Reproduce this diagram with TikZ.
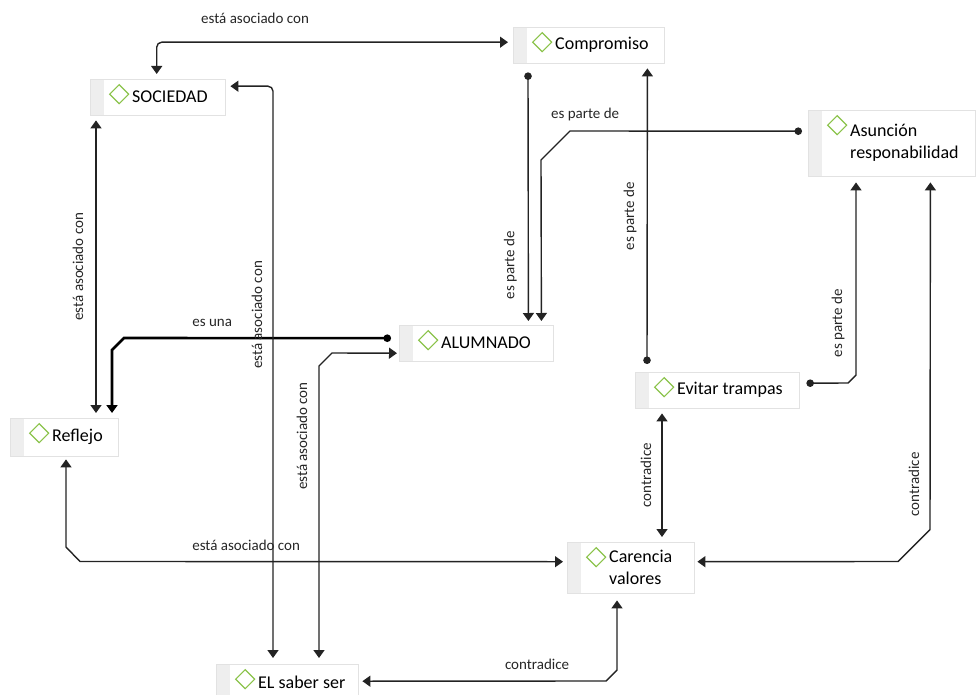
\documentclass[tikz,border=0pt]{standalone}
\usepackage{fontspec}
\setmainfont{Carlito}
\usetikzlibrary{arrows.meta,calc}

\definecolor{rombo}{RGB}{139,195,74}
\definecolor{linea}{RGB}{35,35,35}
\definecolor{franja}{RGB}{238,238,238}
\definecolor{borde}{RGB}{226,226,226}

\tikzset{
  punta/.tip={Triangle[width=11pt,length=8pt]},
  bola/.tip={Circle[length=7.5pt]},
  concepto/.style={rectangle, draw=borde, fill=white, anchor=north west,
    inner xsep=0pt, inner ysep=2pt, align=left,
    font=\fontsize{18}{22}\selectfont,
    execute at begin node={\leftskip=42pt\spaceskip=0pt\xspaceskip=0pt\relax},
    path picture={
      \fill[franja] (path picture bounding box.north west) rectangle ([xshift=14pt]path picture bounding box.south west);
      \draw[rombo, line width=1.1pt] ($(path picture bounding box.north west)+(29,15)$)
        +(-9.5,0) -- +(0,-9.5) -- +(9.5,0) -- +(0,9.5) -- cycle;
    }},
  enlace/.style={linea, line width=1.4pt},
  etiqueta/.style={font=\fontsize{15}{18}\selectfont, text=black!85, inner sep=1pt},
}

\begin{document}
\begin{tikzpicture}[x=1pt, y=-1pt]
  \useasboundingbox (0,0) rectangle (976,695);

  % conceptos
  \node[concepto, text width=151pt, minimum height=36pt] (comp) at (513,27) {Compromiso};
  \node[concepto, text width=135pt, minimum height=36pt] (soc) at (90,79) {SOCIEDAD};
  \node[concepto, text width=167pt, minimum height=66pt] (asun) at (808,110) {Asunción\\responabilidad};
  \node[concepto, text width=154pt, minimum height=36pt] (alum) at (399,325) {ALUMNADO};
  \node[concepto, text width=164pt, minimum height=36pt] (evit) at (635,372) {Evitar trampas};
  \node[concepto, text width=108pt, minimum height=38pt] (refl) at (10,418) {Reflejo};
  \node[concepto, text width=127pt, minimum height=51pt] (care) at (567,542) {Carencia\\valores};
  \node[concepto, text width=142pt, minimum height=36pt] (saber) at (216,664) {EL saber ser};

  % enlaces
  \draw[enlace, punta-punta, rounded corners=5pt] ($(soc.north)+(-1,-5)$) |-
    node[etiqueta, pos=0.64, yshift=24pt] {está asociado con} ($(comp.west)+(-5,-3)$);
  \draw[enlace, bola-punta] ($(comp.south west)+(15,9)$) --
    node[etiqueta, pos=0.775, xshift=-18pt, rotate=90] {es parte de} ($(alum.north east)+(-25,-4)$);
  \draw[enlace, bola-punta] ($(asun.west)+(-6,-12)$) --
    node[etiqueta, pos=0.935, yshift=17pt] {es parte de} (570,131) -- (541,160) -- ($(alum.north east)+(-12,-4)$);
  \draw[enlace, bola-punta] ($(evit.north west)+(12,-8)$) --
    node[etiqueta, midway, xshift=-17pt, rotate=90] {es parte de} ($(comp.south east)+(-17,5)$);
  \draw[enlace, bola-punta] ($(evit.east)+(7,-7)$) -- (848,383) -- (856,375) --
    node[etiqueta, pos=0.27, xshift=-18pt, rotate=90] {es parte de} ($(asun.south west)+(48,6)$);
  \draw[enlace, punta-punta] ($(care.east)+(3,-6)$) -- (898,561.5) -- (930,529.5) --
    node[etiqueta, pos=0.13, xshift=-16pt, rotate=90] {contradice} ($(asun.south east)+(-45,6)$);
  \draw[enlace, punta-punta] ($(evit.south west)+(27,5)$) --
    node[etiqueta, midway, xshift=-16pt, rotate=90] {contradice} ($(care.north west)+(95,-5)$);
  \draw[enlace, punta-punta] ($(soc.south west)+(6,5)$) --
    node[etiqueta, midway, xshift=-18pt, rotate=90] {está asociado con} ($(refl.north west)+(86,-5)$);
  \draw[enlace, bola-punta, line width=2.6pt, black] ($(alum.west)+(-8,-5)$) --
    node[etiqueta, pos=0.67, yshift=15pt] {es una} (124,338) -- (112,350) -- ($(refl.north west)+(102,-5)$);
  \draw[enlace, punta-punta] ($(refl.south west)+(56,3)$) -- (66,547) -- (80,561.5) --
    node[etiqueta, pos=0.344, yshift=16pt] {está asociado con} ($(care.west)+(-4,-6)$);
  \draw[enlace, punta-punta, rounded corners=5pt] ($(soc.east)+(5,-11)$) -|
    node[etiqueta, pos=0.7, xshift=-16pt, rotate=90] {está asociado con} ($(saber.north west)+(57,-6)$);
  \draw[enlace, punta-punta] ($(alum.west)+(-2,10)$) -- (332,353) -- (319,366) --
    node[etiqueta, pos=0.24, xshift=-17pt, rotate=90] {está asociado con} ($(saber.north west)+(103,-6)$);
  \draw[enlace, punta-punta] ($(care.south west)+(50,7)$) -- (617,670) -- (606,681) --
    node[etiqueta, pos=0.283, yshift=17pt] {contradice} ($(saber.east)+(4,-1)$);
\end{tikzpicture}
\end{document}
